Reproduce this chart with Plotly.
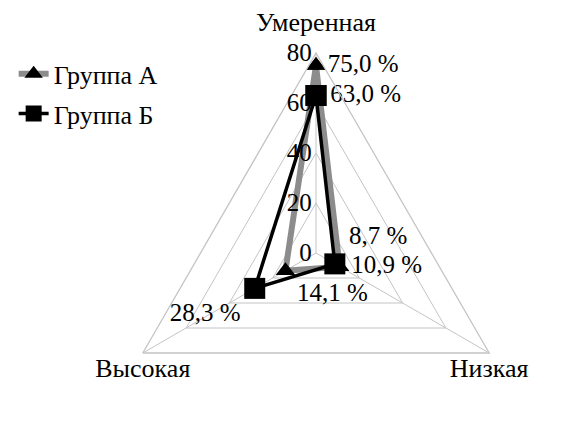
import plotly.graph_objects as go

categories = ["Умеренная", "Низкая", "Высокая"]
group_a = [75.0, 10.9, 14.1]
group_b = [63.0, 8.7, 28.3]
labels_a = ["75,0 %", "10,9 %", "14,1 %"]
labels_b = ["63,0 %", "8,7 %", "28,3 %"]
radial_ticks = [0, 20, 40, 60, 80]

FONT = "Liberation Serif"
FS = 25
GRID = "#c4c4c4"
R_PX = 200

fig = go.Figure()
fig.add_trace(go.Scatterpolar(
    r=group_a + [group_a[0]], theta=categories + [categories[0]],
    mode="lines+markers+text", name="Группа А", legendgroup="a",
    line=dict(color="#8c8c8c", width=6),
    marker=dict(symbol="triangle-up", size=17, color="black"),
    text=labels_a + [""],
    textposition=["middle right", "middle right", "bottom right", "middle right"],
    textfont=dict(family=FONT, size=FS, color="black"),
    cliponaxis=False,
))
fig.add_trace(go.Scatterpolar(
    r=group_b + [group_b[0]], theta=categories + [categories[0]],
    mode="lines+markers+text", name="Группа Б", legendgroup="b",
    line=dict(color="black", width=3.5),
    marker=dict(symbol="square", size=21, color="black"),
    text=labels_b + [""],
    textposition=["middle right", "top right", "bottom left", "middle right"],
    textfont=dict(family=FONT, size=FS, color="black"),
    cliponaxis=False,
))
# category labels at the outer ring (invisible markers only set the text offset)
fig.add_trace(go.Scatterpolar(
    r=[radial_ticks[-1]] * len(categories), theta=categories,
    mode="markers+text", text=categories, showlegend=False, hoverinfo="skip",
    marker=dict(size=[24, 6, 6], opacity=0),
    textposition=["top center", "bottom center", "bottom center"],
    textfont=dict(family=FONT, size=FS + 1, color="black"),
    cliponaxis=False,
))

fig.update_layout(
    width=565, height=445,
    margin=dict(l=0, r=0, t=0, b=0),
    paper_bgcolor="white",
    font=dict(family=FONT, size=FS, color="black"),
    polar=dict(
        domain=dict(x=[(308 - R_PX) / 565, (308 + R_PX) / 565], y=[0, 2 * R_PX / 445]),
        gridshape="linear",
        bgcolor="white",
        angularaxis=dict(
            rotation=90, direction="clockwise",
            categoryorder="array", categoryarray=categories,
            showline=True, linecolor=GRID, linewidth=1.3,
            gridcolor=GRID, gridwidth=1.3,
            ticks="", showticklabels=False,
        ),
        radialaxis=dict(
            range=[0, 80], tickvals=radial_ticks, angle=90,
            side="counterclockwise", tickangle=90,
            showline=False, gridcolor=GRID, gridwidth=1.3,
            ticks="", tickfont=dict(family=FONT, size=FS, color="black"),
        ),
    ),
    legend=dict(x=0.01, y=0.905, xanchor="left", yanchor="top",
                font=dict(family=FONT, size=FS + 1, color="black"),
                bgcolor="rgba(0,0,0,0)", tracegroupgap=3),
)

fig.write_html("out.html")
